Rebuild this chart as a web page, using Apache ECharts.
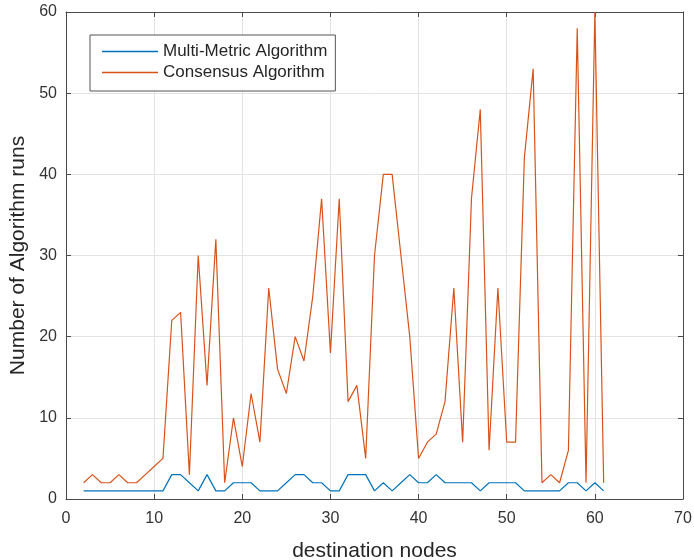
<!DOCTYPE html>
<html>
<head>
<meta charset="utf-8">
<script src="https://cdn.jsdelivr.net/npm/echarts@6/dist/echarts.min.js"></script>
<style>html,body{margin:0;padding:0;background:#fff;}#c{width:694px;height:560px;}</style>
</head>
<body>
<div id="c"></div>
<script>
var nodes = [2,3,4,5,6,7,8,9,10,11,12,13,14,15,16,17,18,19,20,21,22,23,24,25,26,27,28,29,30,31,32,33,34,35,36,37,38,39,40,41,42,43,44,45,46,47,48,49,50,51,52,53,54,55,56,57,58,59,60,61];
var multiMetric = [1,1,1,1,1,1,1,1,1,1,3,3,2,1,3,1,1,2,2,2,1,1,1,2,3,3,2,2,1,1,3,3,3,1,2,1,2,3,2,2,3,2,2,2,2,1,2,2,2,2,1,1,1,1,1,2,2,1,2,1];
var consensus = [2,3,2,2,3,2,2,3,4,5,22,23,3,30,14,32,2,10,4,13,7,26,16,13,20,17,25,37,18,37,12,14,5,30,40,40,30,20,5,7,8,12,26,7,37,48,6,26,7,7,42,53,2,3,2,6,58,2,60,2];
var xTicks = [0,10,20,30,40,50,60,70];
var yTicks = [0,10,20,30,40,50,60];

function pairs(ys){ return nodes.map(function(x,i){ return [x, ys[i]]; }); }

var axisColor = '#4a4a4a';
var font = 'Liberation Sans, Arial, Helvetica, sans-serif';
var chart = echarts.init(document.getElementById('c'));
chart.setOption({
  animation: false,
  backgroundColor: '#fff',
  grid: { left: 66, right: 11, top: 12, bottom: 61, containLabel: false, outerBoundsMode: 'none' },
  legend: {
    orient: 'vertical',
    left: 90, top: 35,
    padding: [8, 8, 10, 12],
    itemGap: 4,
    itemWidth: 56, itemHeight: 1.5,
    icon: 'rect',
    borderColor: '#555', borderWidth: 1, backgroundColor: '#fff',
    textStyle: { fontFamily: font, fontSize: 17, color: '#262626', lineHeight: 17 },
    data: ['Multi-Metric Algorithm', 'Consensus Algorithm']
  },
  xAxis: [{
    type: 'value', min: xTicks[0], max: xTicks[xTicks.length-1], interval: 10,
    name: 'destination nodes', nameLocation: 'middle', nameGap: 42,
    nameTextStyle: { fontFamily: font, fontSize: 21, color: '#262626' },
    axisLine: { show: true, onZero: false, lineStyle: { color: axisColor, width: 1 } },
    axisTick: { show: true, inside: true, length: 5, lineStyle: { color: axisColor } },
    axisLabel: { fontFamily: font, fontSize: 16, color: '#333', margin: 12 },
    splitLine: { show: true, lineStyle: { color: '#e3e3e3', width: 1 } }
  }, {
    type: 'value', position: 'top', min: 0, max: 70, interval: 10,
    axisLine: { show: true, onZero: false, lineStyle: { color: axisColor, width: 1 } },
    axisTick: { show: true, inside: true, length: 5, lineStyle: { color: axisColor } },
    axisLabel: { show: false }, splitLine: { show: false }
  }],
  yAxis: [{
    type: 'value', min: yTicks[0], max: yTicks[yTicks.length-1], interval: 10,
    name: 'Number of Algorithm runs', nameLocation: 'middle', nameGap: 35,
    nameTextStyle: { fontFamily: font, fontSize: 21, color: '#262626' },
    axisLine: { show: true, onZero: false, lineStyle: { color: axisColor, width: 1 } },
    axisTick: { show: true, inside: true, length: 5, lineStyle: { color: axisColor } },
    axisLabel: { fontFamily: font, fontSize: 16, color: '#333', margin: 9 },
    splitLine: { show: true, lineStyle: { color: '#e3e3e3', width: 1 } }
  }, {
    type: 'value', position: 'right', min: 0, max: 60, interval: 10,
    axisLine: { show: true, onZero: false, lineStyle: { color: axisColor, width: 1 } },
    axisTick: { show: true, inside: true, length: 5, lineStyle: { color: axisColor } },
    axisLabel: { show: false }, splitLine: { show: false }
  }],
  series: [{
    name: 'Multi-Metric Algorithm', type: 'line', data: pairs(multiMetric),
    showSymbol: false, symbol: 'none', color: '#0072BD',
    lineStyle: { color: '#0072BD', width: 1.2 }, z: 3
  }, {
    name: 'Consensus Algorithm', type: 'line', data: pairs(consensus),
    showSymbol: false, symbol: 'none', color: '#D95319',
    lineStyle: { color: '#D95319', width: 1.2 }, z: 2
  }]
});
</script>
</body>
</html>
